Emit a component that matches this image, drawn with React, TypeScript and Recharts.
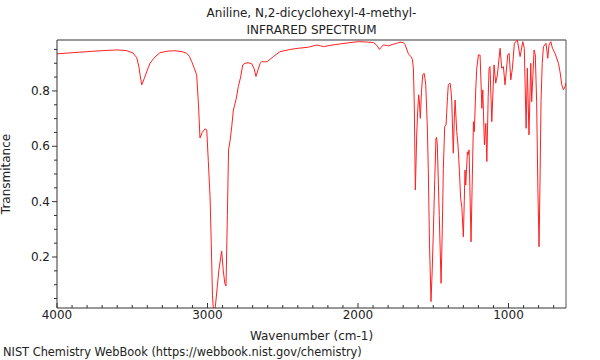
import { LineChart, Line, XAxis, YAxis, ReferenceLine } from 'recharts';

// wavenumber (cm-1) and transmittance
const wavenumbers = [
  4000, 3850, 3714, 3601, 3540, 3495, 3470, 3455, 3448, 3437, 3420, 3400, 3382, 3350, 3316, 3260, 3216, 3170,
  3138, 3120, 3105, 3090, 3072, 3060, 3050, 3035, 3017, 3005, 2995, 2983, 2975, 2967, 2959, 2948, 2939, 2925,
  2906, 2895, 2885, 2877, 2868, 2860, 2850, 2839, 2828, 2810, 2795, 2780, 2766, 2751, 2730, 2706, 2690, 2678,
  2665, 2650, 2640, 2620, 2603, 2560, 2518, 2450, 2397, 2330, 2274, 2250, 2230, 2180, 2119, 2060, 1998, 1950,
  1898, 1875, 1858, 1845, 1832, 1815, 1798, 1770, 1743, 1721, 1699, 1688, 1665, 1650, 1639, 1632, 1626, 1619,
  1614, 1610, 1604, 1597, 1592, 1586, 1578, 1570, 1561, 1555, 1550, 1540, 1533, 1525, 1515, 1507, 1500, 1490,
  1482, 1478, 1473, 1460, 1448, 1440, 1433, 1424, 1415, 1405, 1400, 1388, 1382, 1377, 1367, 1360, 1355, 1344,
  1335, 1326, 1318, 1310, 1300, 1294, 1289, 1284, 1273, 1267, 1262, 1249, 1240, 1233, 1227, 1218, 1211, 1200,
  1189, 1177, 1171, 1160, 1151, 1144, 1135, 1129, 1123, 1111, 1096, 1085, 1074, 1056, 1045, 1034, 1023, 1005,
  996, 985, 974, 961, 941, 923, 905, 895, 883, 875, 864, 852, 846, 830, 822, 813, 805, 797, 790, 784, 776, 768,
  751, 739, 731, 719, 708, 691, 668, 658, 646, 635, 624, 618,
];

const transmittance = [
  0.934, 0.94, 0.945, 0.948, 0.946, 0.937, 0.92, 0.885, 0.858, 0.822, 0.845, 0.875, 0.9, 0.922, 0.938, 0.944, 0.945, 0.942,
  0.936, 0.925, 0.906, 0.885, 0.858, 0.75, 0.63, 0.65, 0.663, 0.659, 0.55, 0.418, 0.25, 0.06, -0.005, 0.02, 0.07, 0.15,
  0.222, 0.15, 0.105, 0.095, 0.35, 0.587, 0.62, 0.671, 0.731, 0.77, 0.816, 0.85, 0.894, 0.9, 0.902, 0.898, 0.88, 0.852,
  0.875, 0.9, 0.906, 0.905, 0.906, 0.925, 0.942, 0.95, 0.954, 0.958, 0.966, 0.963, 0.96, 0.965, 0.97, 0.974, 0.978, 0.977,
  0.975, 0.965, 0.95, 0.958, 0.966, 0.965, 0.963, 0.968, 0.972, 0.976, 0.975, 0.968, 0.934, 0.925, 0.915, 0.882, 0.75, 0.442,
  0.55, 0.641, 0.72, 0.786, 0.76, 0.701, 0.8, 0.858, 0.864, 0.845, 0.822, 0.68, 0.52, 0.25, 0.039, 0.15, 0.28, 0.48,
  0.629, 0.632, 0.605, 0.35, 0.105, 0.3, 0.52, 0.671, 0.677, 0.78, 0.822, 0.828, 0.8, 0.761, 0.575, 0.7, 0.767, 0.653,
  0.6, 0.508, 0.412, 0.38, 0.273, 0.4, 0.514, 0.46, 0.58, 0.57, 0.587, 0.255, 0.5, 0.689, 0.653, 0.8, 0.882, 0.93,
  0.93, 0.737, 0.804, 0.605, 0.683, 0.545, 0.78, 0.882, 0.888, 0.689, 0.894, 0.828, 0.858, 0.954, 0.882, 0.888, 0.822, 0.93,
  0.936, 0.84, 0.882, 0.972, 0.984, 0.924, 0.978, 0.954, 0.665, 0.882, 0.641, 0.9, 0.761, 0.948, 0.93, 0.761, 0.45, 0.237, 0.5, 0.761, 0.9, 0.96,
  0.972, 0.918, 0.966, 0.978, 0.954, 0.936, 0.9, 0.87, 0.822, 0.804, 0.816, 0.83,
];

const xMajorTicks = [1000, 2000, 3000, 4000];
const xAllTicks = [
  700, 800, 900, 1000, 1100, 1200, 1300, 1400, 1500, 1600, 1700, 1800, 1900, 2000, 2100, 2200, 2300,
  2400, 2500, 2600, 2700, 2800, 2900, 3000, 3100, 3200, 3300, 3400, 3500, 3600, 3700, 3800, 3900, 4000,
];
const yMajorTicks = [0.2, 0.4, 0.6, 0.8];
const yAllTicks = [
  0.05, 0.1, 0.15, 0.2, 0.25, 0.3, 0.35, 0.4, 0.45, 0.5, 0.55, 0.6, 0.65, 0.7, 0.75, 0.8, 0.85, 0.9, 0.95,
];

const X_MIN = 618;
const X_MAX = 4000;
const Y_MIN = 0.0158;
const Y_MAX = 0.984;

const FONT = '"DejaVu Sans", sans-serif';
const AXIS = '#333';

const data = wavenumbers.map((wn, i) => ({ wn, t: transmittance[i] }));

function XTick(props: any) {
  const { x, y, payload } = props;
  const major = xMajorTicks.includes(payload.value);
  return (
    <g>
      <line x1={x} x2={x} y1={y} y2={y - (major ? 5 : 3)} stroke={AXIS} />
      {major && (
        <text x={x} y={y + 11} textAnchor="middle" fontSize={12} fontFamily={FONT} fill="#222">
          {payload.value}
        </text>
      )}
    </g>
  );
}

function YTick(props: any) {
  const { x, y, payload } = props;
  const major = yMajorTicks.some((v) => Math.abs(v - payload.value) < 1e-6);
  return (
    <g>
      <line x1={x} x2={x - (major ? 5 : 3)} y1={y} y2={y} stroke={AXIS} />
      {major && (
        <text x={x - 7} y={y + 4} textAnchor="end" fontSize={12} fontFamily={FONT} fill="#222">
          {payload.value.toFixed(1)}
        </text>
      )}
    </g>
  );
}

export default function App() {
  return (
    <div style={{ position: 'absolute', left: 0, top: 0, width: 600, height: 360, fontFamily: FONT, color: '#222', background: '#fff' }}>
      <div style={{ position: 'absolute', left: 0, width: 623, top: 5, textAlign: 'center', fontSize: 12, lineHeight: '17px' }}>
        Aniline, N,2-dicyclohexyl-4-methyl-
        <br />
        INFRARED SPECTRUM
      </div>
      <LineChart width={600} height={360} data={data} margin={{ top: 40, right: 34, bottom: 22, left: 17 }}>
        <XAxis
          dataKey="wn"
          type="number"
          domain={[X_MIN, X_MAX]}
          reversed
          allowDataOverflow
          ticks={xAllTicks}
          interval={0}
          tick={<XTick />}
          tickSize={0}
          tickMargin={0}
          stroke={AXIS}
          height={30}
          label={{ value: 'Wavenumber (cm-1)', position: 'insideBottom', offset: -2, fontSize: 12, fontFamily: FONT, fill: '#222' }}
        />
        <YAxis
          type="number"
          domain={[Y_MIN, Y_MAX]}
          allowDataOverflow
          ticks={yAllTicks}
          interval={0}
          tick={<YTick />}
          tickSize={0}
          tickMargin={0}
          stroke={AXIS}
          width={40}
          label={{ value: 'Transmitance', angle: -90, position: 'insideLeft', offset: -11, fontSize: 12, fontFamily: FONT, fill: '#222', style: { textAnchor: 'middle' } }}
        />
        <ReferenceLine y={Y_MAX} stroke="#999" strokeWidth={2} />
        <ReferenceLine x={X_MIN} stroke="#555" />
        <Line type="linear" dataKey="t" stroke="#ff2020" strokeWidth={1} dot={false} isAnimationActive={false} />
      </LineChart>
      <div style={{ position: 'absolute', left: 3, top: 345, fontSize: 11.4, whiteSpace: 'nowrap' }}>
        NIST Chemistry WebBook (https://webbook.nist.gov/chemistry)
      </div>
    </div>
  );
}
